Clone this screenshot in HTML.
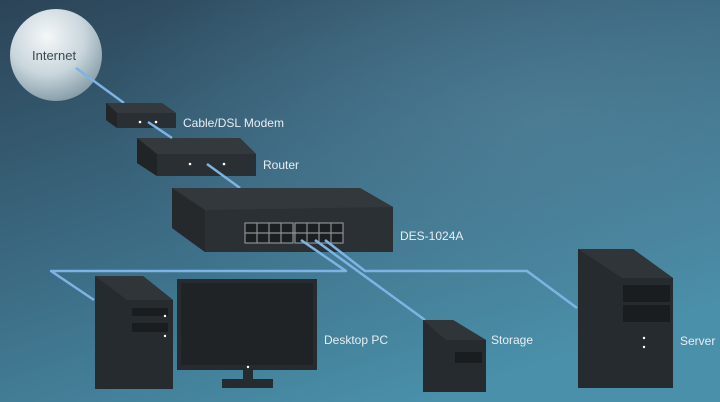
<!DOCTYPE html>
<html><head><meta charset="utf-8"><style>
html,body{margin:0;padding:0;width:720px;height:402px;overflow:hidden}
svg{display:block}
text{font-family:"Liberation Sans",sans-serif;fill:#e8eef2}
</style></head><body>
<svg width="720" height="402" viewBox="0 0 720 402" xmlns="http://www.w3.org/2000/svg">
<defs>
<linearGradient id="bg" x1="0" y1="0" x2="0.6" y2="1">
<stop offset="0" stop-color="#2c4457"/>
<stop offset="0.5" stop-color="#3b6a82"/>
<stop offset="1" stop-color="#4a90aa"/>
</linearGradient>
<radialGradient id="glow" cx="0.75" cy="0.3" r="0.6">
<stop offset="0" stop-color="#5a8aa3" stop-opacity="0.5"/>
<stop offset="1" stop-color="#5a8aa3" stop-opacity="0"/>
</radialGradient>
<radialGradient id="ball" cx="0.4" cy="0.3" r="0.75">
<stop offset="0" stop-color="#f4f7f8"/>
<stop offset="0.55" stop-color="#c9d6dc"/>
<stop offset="1" stop-color="#7f97a3"/>
</radialGradient>
</defs>
<rect width="720" height="402" fill="url(#bg)"/>
<rect width="720" height="402" fill="url(#glow)"/>
<!-- internet -->
<circle cx="56" cy="55" r="46" fill="url(#ball)"/>
<text x="32" y="60" font-size="13" style="fill:#3a4a52">Internet</text>
<g stroke="#7db4e4" stroke-width="2.5" fill="none">
<line x1="76" y1="68" x2="124" y2="103"/>
</g>
<!-- modem -->
<polygon points="106,103 162,103 176,113 176,128 117,128 106,120" fill="#2a2f33"/>
<polygon points="106,103 162,103 176,113 117,113" fill="#34393d"/>
<polygon points="106,103 117,113 117,128 106,120" fill="#222629"/>
<circle cx="140" cy="122" r="1.3" fill="#fff"/><circle cx="156" cy="122" r="1.3" fill="#fff"/>
<text x="183" y="127" font-size="12">Cable/DSL Modem</text>
<!-- router -->
<polygon points="137,138 240,138 256,154 256,176 157,176 137,163" fill="#2a2f33"/>
<polygon points="137,138 240,138 256,154 157,154" fill="#34393d"/>
<polygon points="137,138 157,154 157,176 137,163" fill="#202427"/>
<circle cx="190" cy="164" r="1.3" fill="#fff"/><circle cx="224" cy="164" r="1.3" fill="#fff"/>
<text x="263" y="169" font-size="12">Router</text>
<g stroke="#7db4e4" stroke-width="2.5" fill="none">
<line x1="148" y1="122" x2="172" y2="138"/>
<line x1="207" y1="164" x2="240" y2="188"/>
</g>
<!-- switch -->
<polygon points="172,188 360,188 393,207 393,252 205,252 172,228" fill="#2b3034"/>
<polygon points="172,188 360,188 393,207 205,210" fill="#33383c"/>
<polygon points="172,188 205,210 205,252 172,228" fill="#25292c"/>
<g fill="#1c1f22" stroke="#8a9096" stroke-width="1.2">
<rect x="245" y="223" width="48" height="20"/>
<rect x="295" y="223" width="48" height="20"/>
</g>
<g stroke="#8a9096" stroke-width="1.2">
<line x1="245" y1="233" x2="343" y2="233"/>
<line x1="257" y1="223" x2="257" y2="243"/><line x1="269" y1="223" x2="269" y2="243"/><line x1="281" y1="223" x2="281" y2="243"/>
<line x1="307" y1="223" x2="307" y2="243"/><line x1="319" y1="223" x2="319" y2="243"/><line x1="331" y1="223" x2="331" y2="243"/>
</g>
<text x="400" y="240" font-size="12">DES-1024A</text>
<!-- links -->
<g stroke="#7db4e4" stroke-width="2.5" fill="none" stroke-linejoin="round">
<polyline points="301,240 346,271 51,271 94,300"/>
<line x1="315" y1="240" x2="425" y2="320"/>
<polyline points="325,240 365,271 527,271 577,308"/>
</g>
<!-- desktop tower -->
<polygon points="95,276 143,276 173,300 173,389 95,389" fill="#262b2f"/>
<polygon points="95,276 143,276 173,300 127,300" fill="#30353a"/>
<rect x="132" y="308" width="36" height="8" fill="#1a1d20"/>
<rect x="132" y="323" width="36" height="9" fill="#1a1d20"/>
<circle cx="165" cy="316" r="1.2" fill="#fff"/><circle cx="165" cy="336" r="1.2" fill="#fff"/>
<!-- monitor -->
<rect x="177" y="279" width="140" height="91" fill="#262b2f"/>
<rect x="181" y="283" width="132" height="82" fill="#1f2326"/>
<rect x="243" y="370" width="10" height="10" fill="#262b2f"/>
<rect x="222" y="379" width="51" height="9" fill="#262b2f"/>
<circle cx="248" cy="367" r="1.2" fill="#fff"/>
<text x="324" y="344" font-size="12">Desktop PC</text>
<!-- storage -->
<polygon points="423,320 453,320 486,340 486,392 423,392" fill="#262b2f"/>
<polygon points="423,320 453,320 486,340 446,340" fill="#30353a"/>
<rect x="455" y="352" width="27" height="11" fill="#1a1d20"/>
<text x="491" y="344" font-size="12">Storage</text>
<!-- server -->
<polygon points="578,249 633,249 673,278 673,388 578,388" fill="#262b2f"/>
<polygon points="578,249 633,249 673,278 622,278" fill="#30353a"/>
<rect x="623" y="285" width="47" height="17" fill="#1a1d20"/>
<rect x="623" y="305" width="47" height="17" fill="#1a1d20"/>
<circle cx="644" cy="338" r="1.2" fill="#fff"/><circle cx="644" cy="347" r="1.2" fill="#fff"/>
<text x="680" y="345" font-size="12">Server</text>
</svg>
</body></html>
